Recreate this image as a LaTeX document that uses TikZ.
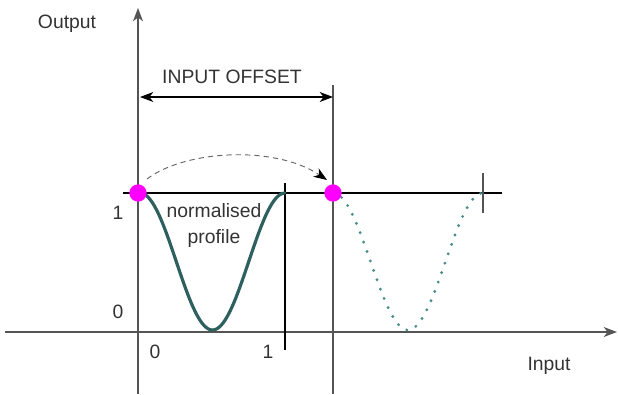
\documentclass[tikz,border=0pt]{standalone}
\usepackage{fontspec}
\setmainfont{Liberation Sans}
\usetikzlibrary{arrows.meta}
\definecolor{solidc}{HTML}{2F6060}
\definecolor{dotc}{HTML}{4A8C8C}
\definecolor{axc}{HTML}{555555}
\definecolor{mag}{HTML}{FF00FF}
\begin{document}
\begin{tikzpicture}[x=0.75pt,y=-0.75pt,
  lbl/.style={font=\fontsize{14.5}{16}\selectfont, text=black!80, inner sep=0pt},
  axis/.style={draw=axc, line width=0.9pt},
  tipk/.style={-{Stealth[length=10pt,width=7.5pt,inset=3pt]}},
  dot/.style={circle, fill=mag, minimum size=13pt, inner sep=0pt}]
\useasboundingbox (0,0) rectangle (618,394);
% coordinates
\coordinate (ybot) at (138,394);
\coordinate (ytop) at (138,8);
\coordinate (xl) at (5,332);
\coordinate (xr) at (617,332);
% axes
\draw[axis, tipk] (ybot) -- (ytop);
\draw[axis, tipk] (xl) -- (xr);
% guide lines
\coordinate (h1a) at (123,193);
\coordinate (h1b) at (502,193);
\draw[black, line width=0.9pt] (h1a) -- (h1b);
\coordinate (v1a) at (285,183);
\coordinate (v1b) at (285,350);
\draw[black, line width=0.9pt] (v1a) -- (v1b);
\coordinate (v2a) at (333,85);
\coordinate (v2b) at (333,394);
\draw[axis] (v2a) -- (v2b);
\coordinate (t1) at (483,173);
\coordinate (t2) at (483,213);
\draw[axis] (t1) -- (t2);
% input offset
\coordinate (oa) at (140,97);
\coordinate (ob) at (333,97);
\draw[black, line width=0.8pt, {Stealth[length=10pt,width=7.5pt,inset=3pt]}-{Stealth[length=10pt,width=7.5pt,inset=3pt]}] (oa) -- (ob);
\node[lbl] (off) at (232,77) {INPUT OFFSET};
% curves
\draw[solidc, line width=2.4pt, line cap=round, domain=0:1, samples=80, smooth]
  plot ({140+145*\x}, {193+137*(1-cos(360*\x))/2});
\draw[dotc, line width=2.4pt, line cap=round, dash pattern=on 0pt off 7.5pt, domain=0:1, samples=80, smooth]
  plot ({333+150*\x}, {193+137*(1-cos(360*\x))/2});
% dashed arc
\coordinate (da) at (147,179);
\coordinate (db) at (327,180);
\draw[black!60, line width=0.7pt, dash pattern=on 4pt off 3pt, -{Stealth[length=10pt,width=7.5pt,inset=3pt,black]}]
  (da) .. controls (185,150) and (275,145) .. (db);
% dots
\node[dot] (p1) at (138,193) {};
\node[dot] (p2) at (333,193) {};
% labels
\node[lbl] (out) at (67,24) {Output};
\node[lbl] (inp) at (549,366) {Input};
\node[lbl] (y1) at (118,213) {1};
\node[lbl] (y0) at (118,312) {0};
\node[lbl] (x0) at (155,352) {0};
\node[lbl] (x1) at (268,352) {1};
\node[lbl] (n1) at (214,211) {normalised};
\node[lbl] (n2) at (214,238) {profile};
\end{tikzpicture}
\end{document}
